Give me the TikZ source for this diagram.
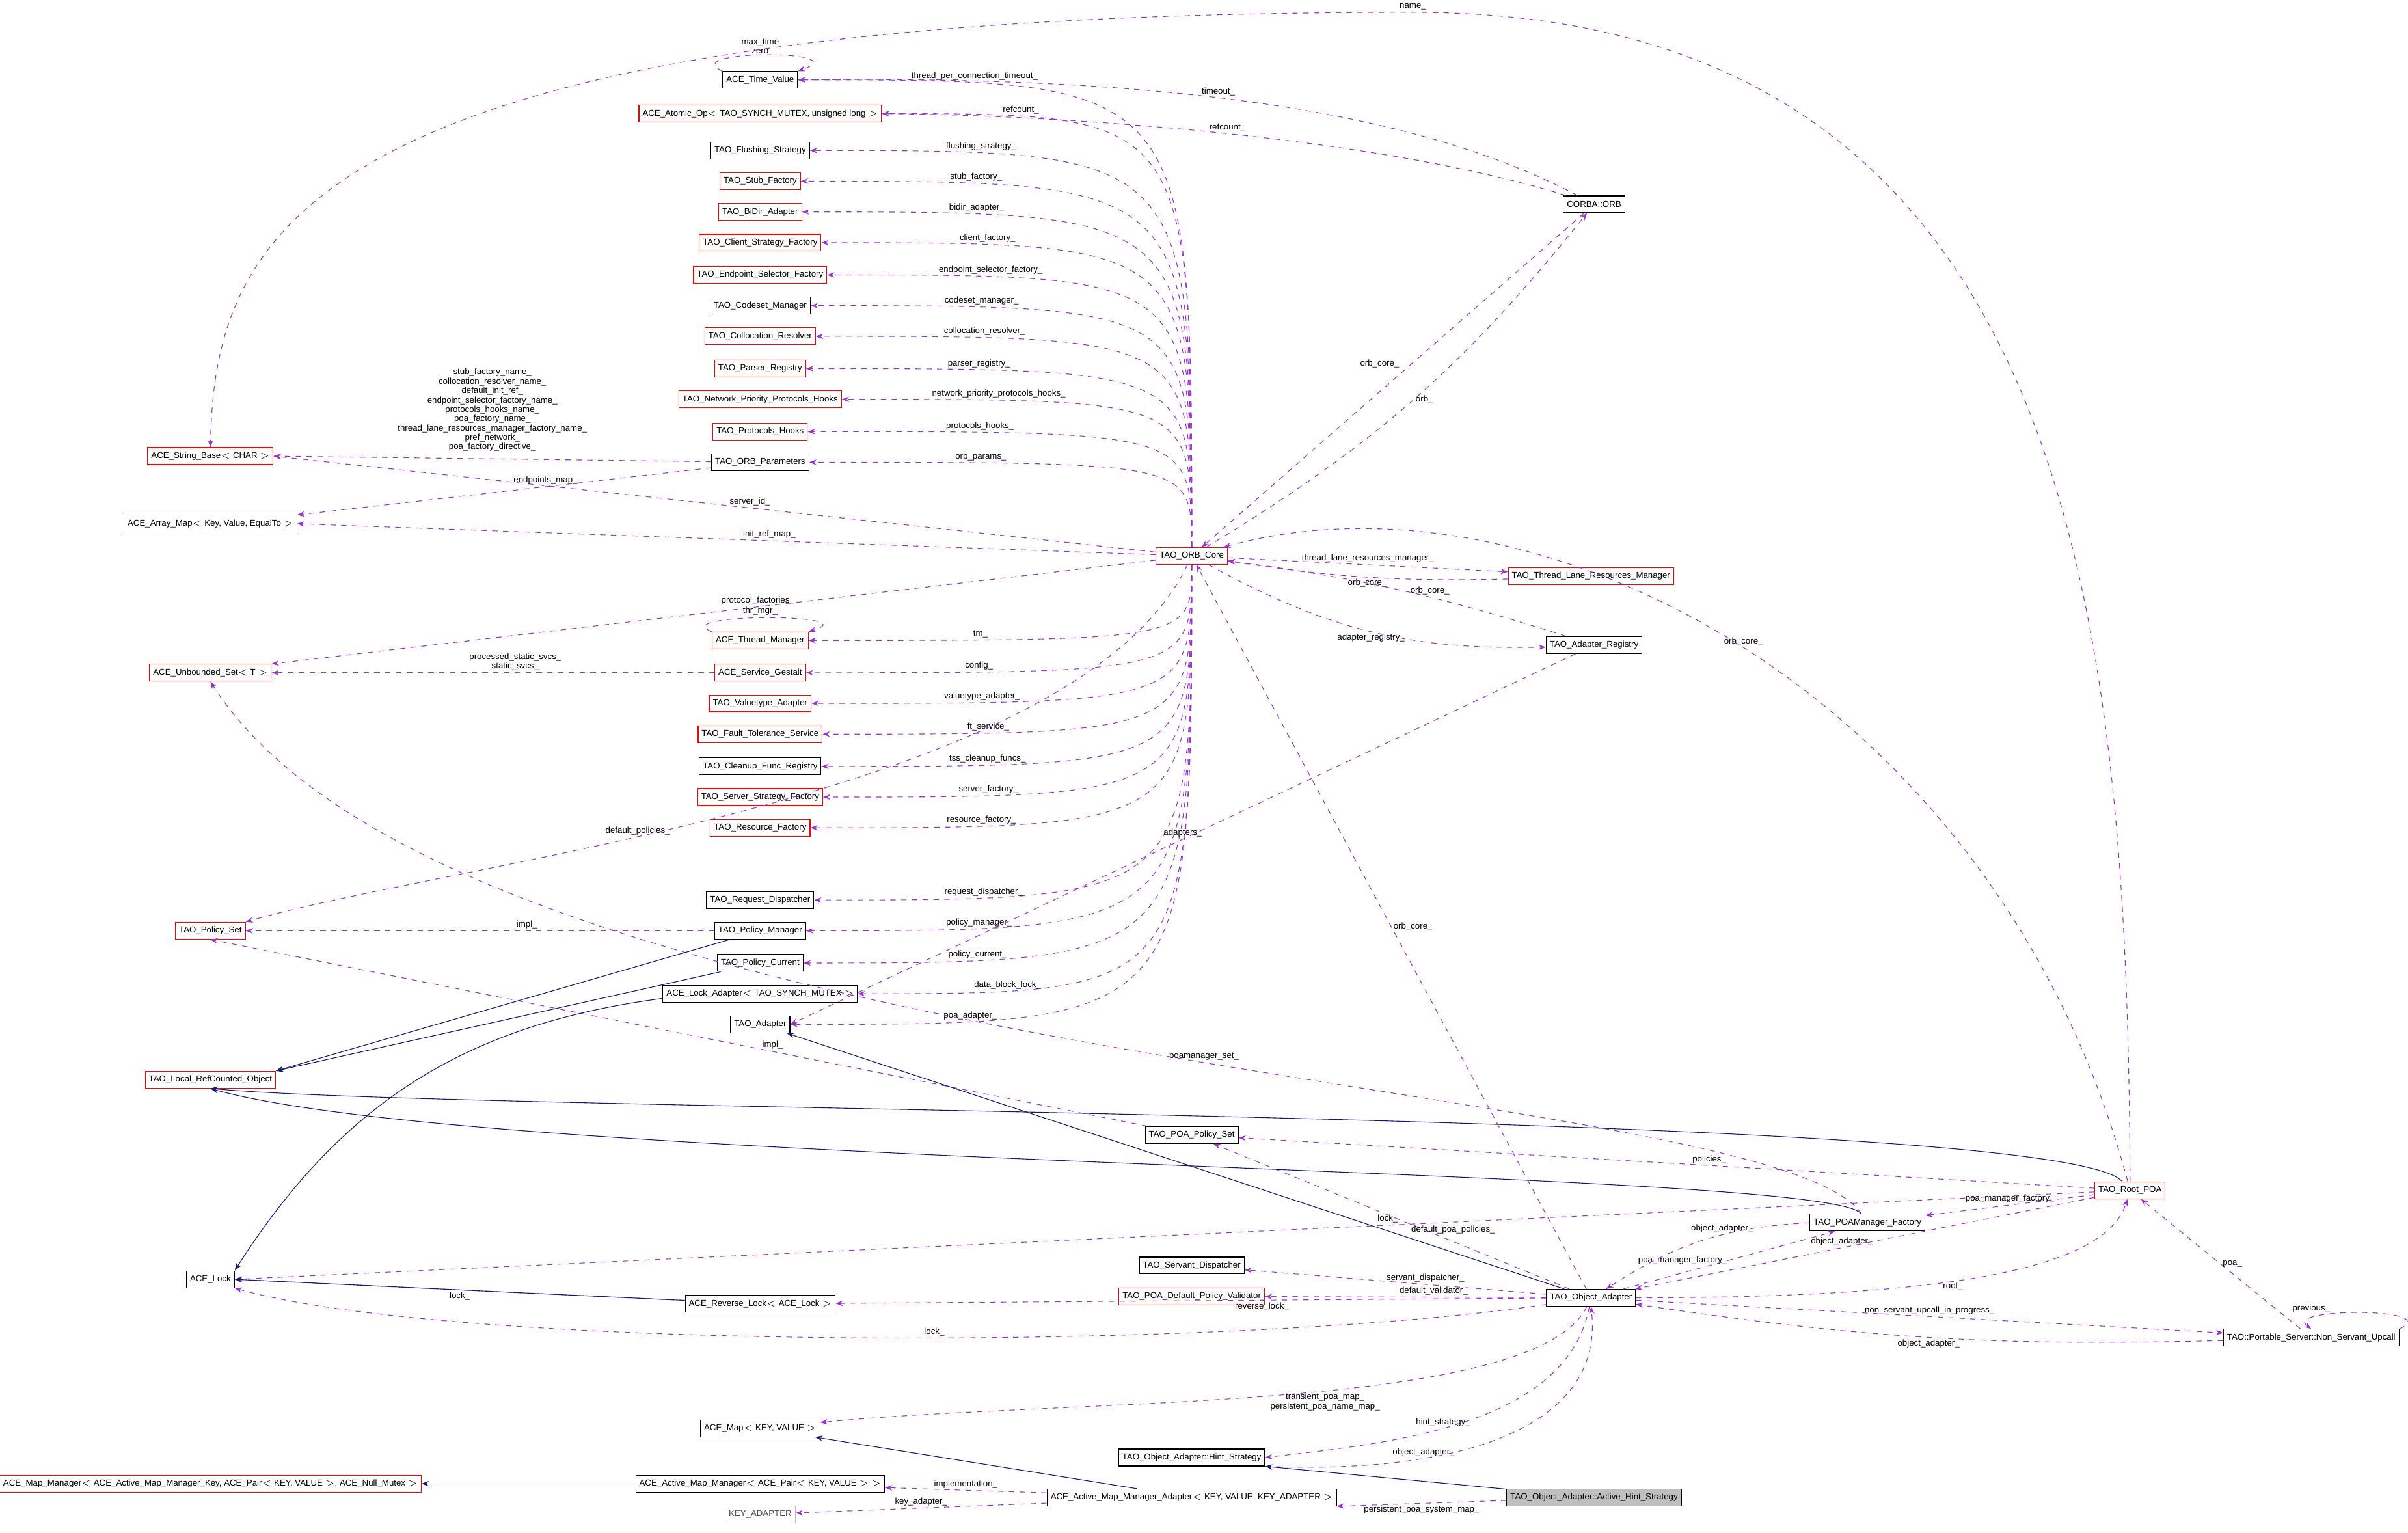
\documentclass[tikz,border=0pt]{standalone}
\usepackage{fontspec}
\setmainfont{Liberation Sans}
\usetikzlibrary{arrows.meta,positioning}
\definecolor{usecol}{HTML}{9A32CD}
\definecolor{inhcol}{HTML}{191970}
\definecolor{redbox}{HTML}{FF0000}
\definecolor{graybox}{HTML}{BFBFBF}

\begin{document}
\begin{tikzpicture}[x=0.3mm, y=-0.3mm,
  cls/.style={draw=black,fill=white,minimum height=3.3mm,inner xsep=2pt,inner ysep=0.5pt,font=\fontsize{4.8}{5.5}\selectfont},
  rcls/.style={cls,draw=redbox},
  gcls/.style={cls,draw=graybox,text=black!70},
  use/.style={-{Stealth[length=4pt,width=3pt]},dashed,usecol,thin},
  inh/.style={-{Stealth[length=4pt,width=3pt]},inhcol,thin},
  lbl/.style={font=\fontsize{4.8}{5.2}\selectfont,text=black,align=center,inner sep=1pt}
]
\useasboundingbox (0,0) rectangle (1568,998);

% left column, used by the ORB core
\node[cls]  (tv)   at (495,52)  {ACE\_Time\_Value};
\node[rcls] (aop)  at (495,74)  {ACE\_Atomic\_Op$<$ TAO\_SYNCH\_MUTEX, unsigned long $>$};
\node[cls]  (fls)  at (495,98)  {TAO\_Flushing\_Strategy};
\node[rcls] (stf)  at (495,118) {TAO\_Stub\_Factory};
\node[rcls] (bid)  at (495,138) {TAO\_BiDir\_Adapter};
\node[rcls] (csf)  at (495,158) {TAO\_Client\_Strategy\_Factory};
\node[rcls] (esf)  at (495,179) {TAO\_Endpoint\_Selector\_Factory};
\node[cls]  (csm)  at (495,199) {TAO\_Codeset\_Manager};
\node[rcls] (col)  at (495,219) {TAO\_Collocation\_Resolver};
\node[rcls] (par)  at (495,240) {TAO\_Parser\_Registry};
\node[rcls] (npp)  at (495,260) {TAO\_Network\_Priority\_Protocols\_Hooks};
\node[rcls] (prh)  at (495,281) {TAO\_Protocols\_Hooks};
\node[cls]  (orbp) at (495,301) {TAO\_ORB\_Parameters};
\node[rcls] (thm)  at (495,417) {ACE\_Thread\_Manager};
\node[rcls] (sg)   at (495,438) {ACE\_Service\_Gestalt};
\node[rcls] (vta)  at (495,458) {TAO\_Valuetype\_Adapter};
\node[rcls] (fts)  at (495,478) {TAO\_Fault\_Tolerance\_Service};
\node[cls]  (cfr)  at (495,499) {TAO\_Cleanup\_Func\_Registry};
\node[rcls] (ssf)  at (495,519) {TAO\_Server\_Strategy\_Factory};
\node[rcls] (rsf)  at (495,539) {TAO\_Resource\_Factory};
\node[cls]  (rqd)  at (495,586) {TAO\_Request\_Dispatcher};
\node[cls]  (pm)   at (495,606) {TAO\_Policy\_Manager};
\node[cls]  (pc)   at (495,627) {TAO\_Policy\_Current};
\node[cls]  (la)   at (495,647) {ACE\_Lock\_Adapter$<$ TAO\_SYNCH\_MUTEX $>$};
\node[cls]  (ad)   at (495,667) {TAO\_Adapter};

% far left column
\node[rcls] (sb)   at (137,297) {ACE\_String\_Base$<$ CHAR $>$};
\node[cls]  (am)   at (137,341) {ACE\_Array\_Map$<$ Key, Value, EqualTo $>$};
\node[rcls] (us)   at (137,438) {ACE\_Unbounded\_Set$<$ T $>$};
\node[rcls] (ps)   at (137,606) {TAO\_Policy\_Set};
\node[rcls] (lrc)  at (137,703) {TAO\_Local\_RefCounted\_Object};
\node[cls]  (lk)   at (137,833) {ACE\_Lock};
\node[rcls] (mm)   at (137,966) {ACE\_Map\_Manager$<$ ACE\_Active\_Map\_Manager\_Key, ACE\_Pair$<$ KEY, VALUE $>$, ACE\_Null\_Mutex $>$};

% core and right part
\node[rcls] (core) at (776,362) {TAO\_ORB\_Core};
\node[cls]  (orb)  at (1038,133) {CORBA::ORB};
\node[rcls] (tlr)  at (1036,375) {TAO\_Thread\_Lane\_Resources\_Manager};
\node[cls]  (areg) at (1038,420) {TAO\_Adapter\_Registry};
\node[cls]  (pps)  at (776,739) {TAO\_POA\_Policy\_Set};
\node[rcls] (root) at (1387,775) {TAO\_Root\_POA};
\node[cls]  (pmf)  at (1216,796) {TAO\_POAManager\_Factory};
\node[cls]  (sd)   at (776,824) {TAO\_Servant\_Dispatcher};
\node[rcls] (pdv)  at (776,844) {TAO\_POA\_Default\_Policy\_Validator};
\node[cls]  (rl)   at (495,849) {ACE\_Reverse\_Lock$<$ ACE\_Lock $>$};
\node[cls]  (oa)   at (1036,845) {TAO\_Object\_Adapter};
\node[cls]  (nsu)  at (1505,871) {TAO::Portable\_Server::Non\_Servant\_Upcall};
\node[cls]  (map)  at (495,930) {ACE\_Map$<$ KEY, VALUE $>$};
\node[cls]  (hs)   at (776,949) {TAO\_Object\_Adapter::Hint\_Strategy};
\node[cls]  (amm)  at (495,966) {ACE\_Active\_Map\_Manager$<$ ACE\_Pair$<$ KEY, VALUE $>$ $>$};
\node[cls]  (amma) at (776,975) {ACE\_Active\_Map\_Manager\_Adapter$<$ KEY, VALUE, KEY\_ADAPTER $>$};
\node[cls,fill=graybox] (ahs) at (1038,975) {TAO\_Object\_Adapter::Active\_Hint\_Strategy};
\node[gcls] (ka)   at (495,986) {KEY\_ADAPTER};

% members of the ORB core
\foreach \t/\l in {tv/thread\_per\_connection\_timeout\_, aop/refcount\_, fls/flushing\_strategy\_,
  stf/stub\_factory\_, bid/bidir\_adapter\_, csf/client\_factory\_, esf/endpoint\_selector\_factory\_,
  csm/codeset\_manager\_, col/collocation\_resolver\_, par/parser\_registry\_,
  npp/network\_priority\_protocols\_hooks\_, prh/protocols\_hooks\_, orbp/orb\_params\_}
  \draw[use] (core.north) .. controls (core.north |- \t.east) .. (\t.east) node[lbl,pos=0.82,above] {\l};
\foreach \t/\l in {thm/tm\_, sg/config\_, vta/valuetype\_adapter\_, fts/ft\_service\_, cfr/tss\_cleanup\_funcs\_,
  ssf/server\_factory\_, rsf/resource\_factory\_, rqd/request\_dispatcher\_, pm/policy\_manager\_,
  pc/policy\_current\_, la/data\_block\_lock\_, ad/poa\_adapter\_}
  \draw[use] (core.south) .. controls (core.south |- \t.east) .. (\t.east) node[lbl,pos=0.82,above] {\l};
\draw[use] (core) -- (sb.east) node[lbl,pos=0.46,above] {server\_id\_};
\draw[use] (core) -- (am.east) node[lbl,pos=0.45,above] {init\_ref\_map\_};
\draw[use] (core) -- (us.north east) node[lbl,pos=0.45,above] {protocol\_factories\_};
\draw[use] (core) .. controls (700,520) and (300,560) .. (ps.north east) node[lbl,pos=0.6,above] {default\_policies\_};

% self references
\draw[use] (tv.north west) .. controls +(-30,-14) and +(40,-14) .. (tv.north east);
\node[lbl] (tvl) at (495,30) {max\_time\\zero};
\draw[use] (thm.north west) .. controls +(-30,-12) and +(40,-12) .. (thm.north east);
\node[lbl] (thml) at (495,398) {thr\_mgr\_};
\draw[use] (nsu.north east) .. controls +(30,-14) and +(-20,-14) .. (nsu.north);
\node[lbl] (nsul) at (1505,852) {previous\_};

% ORB parameters and service gestalt
\draw[use] (orbp) -- (sb.east) node[lbl,pos=0.5,above=3pt] {stub\_factory\_name\_\\collocation\_resolver\_name\_\\default\_init\_ref\_\\endpoint\_selector\_factory\_name\_\\protocols\_hooks\_name\_\\poa\_factory\_name\_\\thread\_lane\_resources\_manager\_factory\_name\_\\pref\_network\_\\poa\_factory\_directive\_};
\draw[use] (orbp) -- (am.north east) node[lbl,pos=0.4,above] {endpoints\_map\_};
\draw[use] (sg) -- (us) node[lbl,pos=0.45,above] {processed\_static\_svcs\_\\static\_svcs\_};
\draw[use] (pm) -- (ps) node[lbl,pos=0.4,above] {impl\_};
\draw[use] (pps) -- (ps.south) node[lbl,pos=0.4,above] {impl\_};

% CORBA::ORB, lanes, registry
\draw[use] (orb) .. controls (900,60) and (700,50) .. (tv.east) node[lbl,pos=0.5,above] {timeout\_};
\draw[use] (orb) .. controls (900,90) and (700,75) .. (aop.east) node[lbl,pos=0.5,above] {refcount\_};
\draw[use] (orb) -- (core) node[lbl,pos=0.45,left=6pt] {orb\_core\_};
\draw[use] (core) to[bend right=10] node[lbl,pos=0.5,right] {orb\_} (orb);
\draw[use] (core) -- (tlr) node[lbl,pos=0.5,above] {thread\_lane\_resources\_manager\_};
\draw[use] (tlr) to[bend left=5] node[lbl,pos=0.5,below] {orb\_core\_} (core);
\draw[use] (areg) to[bend right=5] node[lbl,pos=0.4,above] {orb\_core\_} (core);
\draw[use] (core) to[bend right=15] node[lbl,pos=0.5,below] {adapter\_registry\_} (areg);
\draw[use] (areg) -- (ad.east) node[lbl,pos=0.5,above] {adapters\_};

% root POA
\draw[use] (root.north) .. controls (1385,400) and (1350,8) .. (920,8) node[lbl,above] {name\_} .. controls (200,8) and (140,150) .. (sb.north);
\draw[use] (root) .. controls (1300,450) and (1000,300) .. (core) node[lbl,pos=0.5,above] {orb\_core\_};
\draw[use] (oa) -- (core) node[lbl,pos=0.5,right] {orb\_core\_};
\draw[use] (root) -- (pps) node[lbl,pos=0.45,above] {policies\_};
\draw[use] (root) -- (lk.east) node[lbl,pos=0.38,above] {lock\_};
\draw[use] (root) -- (pmf) node[lbl,pos=0.5,above] {poa\_manager\_factory\_};
\draw[use] (root) -- (oa) node[lbl,pos=0.55,above] {object\_adapter\_};
\draw[use] (pmf) .. controls (1150,700) and (300,700) .. (us.south) node[lbl,pos=0.45,above] {poamanager\_set\_};

% object adapter
\draw[use] (oa) -- (pps) node[lbl,pos=0.45,below right] {default\_poa\_policies\_};
\draw[use] (oa) -- (sd) node[lbl,pos=0.4,above] {servant\_dispatcher\_};
\draw[use] (oa) -- (pdv) node[lbl,pos=0.4,above] {default\_validator\_};
\draw[use] (oa) -- (rl) node[lbl,pos=0.4,below] {reverse\_lock\_};
\draw[use] (oa) .. controls (800,880) and (300,880) .. (lk.south east) node[lbl,pos=0.45,above] {lock\_};
\draw[use] (rl) -- (lk.east) node[lbl,pos=0.5,below] {lock\_};
\draw[use] (oa) -- (pmf) node[lbl,pos=0.5,left] {poa\_manager\_factory\_};
\draw[use] (pmf) to[bend right=15] node[lbl,pos=0.4,above] {object\_adapter\_} (oa);
\draw[use] (oa) .. controls (1250,845) and (1370,830) .. (root) node[lbl,pos=0.45,below] {root\_};
\draw[use] (oa) -- (nsu) node[lbl,pos=0.5,above] {non\_servant\_upcall\_in\_progress\_};
\draw[use] (nsu) to[bend left=5] node[lbl,pos=0.5,below] {object\_adapter\_} (oa);
\draw[use] (nsu) -- (root) node[lbl,pos=0.5,right] {poa\_};
\draw[use] (oa) .. controls (1000,920) and (700,910) .. (map) node[lbl,pos=0.45,below] {transient\_poa\_map\_\\persistent\_poa\_name\_map\_};
\draw[use] (oa) .. controls (1020,930) and (900,940) .. (hs.east) node[lbl,pos=0.55,above] {hint\_strategy\_};
\draw[use] (hs.south east) .. controls (950,960) and (1045,930) .. (oa.south) node[lbl,pos=0.3,above] {object\_adapter\_};
\draw[use] (ahs) -- (amma.south east) node[lbl,pos=0.5,below] {persistent\_poa\_system\_map\_};
\draw[use] (amma) -- (amm) node[lbl,pos=0.5,above] {implementation\_};
\draw[use] (amma) -- (ka) node[lbl,pos=0.5,above] {key\_adapter\_};

% inheritance
\draw[inh] (pm) -- (lrc.north east);
\draw[inh] (pc) -- (lrc.north east);
\draw[inh] (root) .. controls (1340,722) and (320,725) .. (lrc.south);
\draw[inh] (pmf) .. controls (1190,760) and (320,760) .. (lrc.south);
\draw[inh] (la) to[bend right=25] (lk.north east);
\draw[inh] (rl) -- (lk.east);
\draw[inh] (oa) -- (ad);
\draw[inh] (ahs) -- (hs.south east);
\draw[inh] (amma) -- (map);
\draw[inh] (amm) -- (mm);
\end{tikzpicture}
\end{document}
